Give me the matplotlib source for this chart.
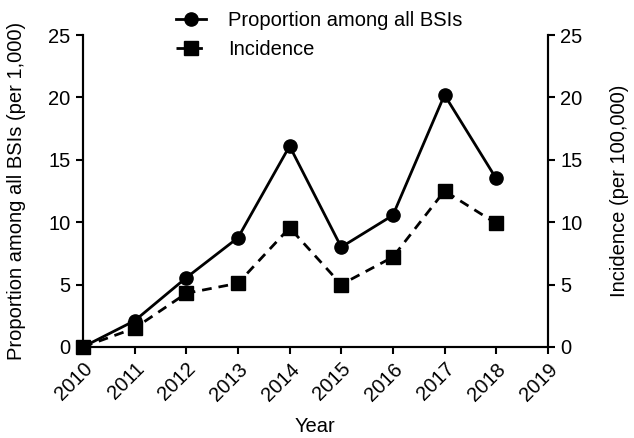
import matplotlib
matplotlib.use("Agg")
import matplotlib.pyplot as plt

plt.rcParams['font.family'] = ['Liberation Sans', 'DejaVu Sans']

years = [2010, 2011, 2012, 2013, 2014, 2015, 2016, 2017, 2018]
proportion = [0.0, 2.1, 5.55, 8.75, 16.1, 8.0, 10.55, 20.2, 13.5]
incidence = [0.0, 1.5, 4.3, 5.1, 9.55, 5.0, 7.2, 12.5, 9.9]
xticks = list(range(2010, 2020))
yticks = [0, 5, 10, 15, 20, 25]

FS = 14.5

fig = plt.figure(figsize=(6.34, 4.38), dpi=100)
ax = fig.add_axes([0.131, 0.208, 0.733, 0.712])
ax2 = ax.twinx()

l1, = ax.plot(years, proportion, color='black', lw=2, marker='o', ms=9.5,
              label='Proportion among all BSIs', clip_on=False, zorder=5)
l2, = ax2.plot(years, incidence, color='black', lw=2, ls=(0, (3.5, 2.5)), marker='s', ms=9.5,
               label='Incidence', clip_on=False, zorder=5)

for a in (ax, ax2):
    a.set_xlim(2010, 2019)
    a.set_ylim(0, 25)
    a.set_yticks(yticks)
    a.spines['top'].set_visible(False)
    for s in a.spines.values():
        s.set_linewidth(1.5)
    a.tick_params(direction='out', length=5, width=1.5, labelsize=FS, pad=4)

ax.set_xticks(xticks)
ax.set_xticklabels([str(x) for x in xticks], rotation=45, ha='right', rotation_mode='anchor')
ax.set_xlabel('Year', fontsize=FS, labelpad=9)
ax.set_ylabel('Proportion among all BSIs (per 1,000)', fontsize=FS, labelpad=16)
ax2.set_ylabel('Incidence (per 100,000)', fontsize=FS, labelpad=20)

ax2.legend([l1, l2], [l1.get_label(), l2.get_label()], loc='upper center',
           bbox_to_anchor=(0.508, 1.135), frameon=False, fontsize=FS,
           handlelength=1.5, labelspacing=0.5, handletextpad=1.1)

fig.savefig('out.png', dpi=100)
